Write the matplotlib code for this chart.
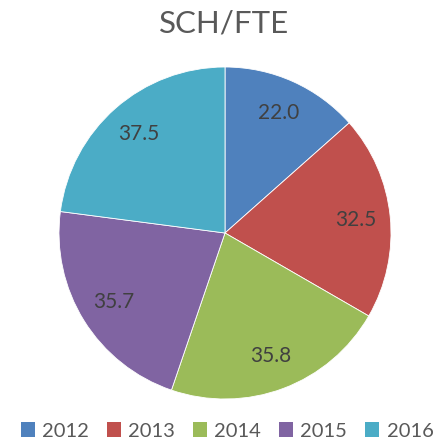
import matplotlib
matplotlib.use('Agg')
import matplotlib.pyplot as plt
from matplotlib.patches import Patch

matplotlib.rcParams['font.family'] = ['Lato', 'DejaVu Sans']

years = ['2012', '2013', '2014', '2015', '2016']
values = [22.0, 32.5, 35.8, 35.7, 37.5]
colors = ['#4F81BD', '#C0504D', '#9BBB59', '#8064A2', '#4BACC6']

fig = plt.figure(figsize=(4.41, 4.44), dpi=100)

# pie area: centre about (225, 233) px, radius 166 px
ax = fig.add_axes([(225 - 166) / 441, (444 - 233 - 166) / 444, 332 / 441, 332 / 444])
wedges, texts, autotexts = ax.pie(values, colors=colors, startangle=90, counterclock=False,
                                  autopct=lambda p: '%.1f' % (p * sum(values) / 100),
                                  pctdistance=0.79, radius=1,
                                  wedgeprops=dict(edgecolor='white', linewidth=0.6))
for t in autotexts:
    t.set_fontsize(15)
    t.set_color('#404040')
ax.set_xlim(-1.0, 1.0)
ax.set_ylim(-1.0, 1.0)
ax.set_aspect('equal')
ax.axis('off')

fig.text(0.507, 1 - 24 / 444, 'SCH/FTE', ha='center', va='center', fontsize=22.5, color='#595959')

handles = [Patch(facecolor=c, edgecolor='none') for c in colors]
fig.legend(handles, years, loc='center', bbox_to_anchor=(0.515, 1 - 431 / 444), ncol=5,
           frameon=False, fontsize=14.5, labelcolor='#595959',
           handlelength=0.7, handleheight=0.7, handletextpad=0.35, columnspacing=0.9)

fig.savefig('out.png', dpi=100)
